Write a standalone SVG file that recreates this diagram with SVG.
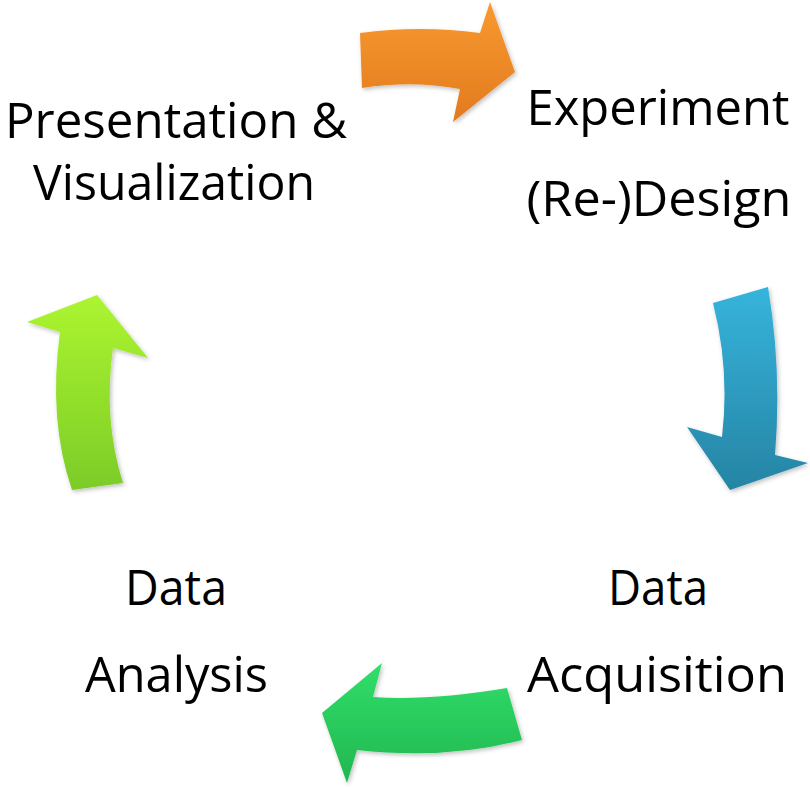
<svg xmlns="http://www.w3.org/2000/svg" width="810" height="787" viewBox="0 0 810 787">
  <defs>
    <style>
      .lbl { font-family: "Open Sans", "Liberation Sans", sans-serif; font-size: 49px; fill: #000; text-anchor: middle; }
    </style>
    <linearGradient id="gOrange" x1="0" y1="0" x2="0" y2="1">
      <stop offset="0" stop-color="#F89A30"/>
      <stop offset="1" stop-color="#E27A1E"/>
    </linearGradient>
    <linearGradient id="gBlue" x1="0" y1="0" x2="0" y2="1">
      <stop offset="0" stop-color="#36B4DC"/>
      <stop offset="1" stop-color="#2684A4"/>
    </linearGradient>
    <linearGradient id="gGreen" x1="0" y1="0" x2="0" y2="1">
      <stop offset="0" stop-color="#31DE6A"/>
      <stop offset="1" stop-color="#22B750"/>
    </linearGradient>
    <linearGradient id="gLime" x1="0" y1="0" x2="0" y2="1">
      <stop offset="0" stop-color="#ACF530"/>
      <stop offset="1" stop-color="#7CCC28"/>
    </linearGradient>
    <filter id="sh" x="-20%" y="-20%" width="140%" height="140%">
      <feDropShadow dx="1.5" dy="2" stdDeviation="2" flood-color="#000" flood-opacity="0.25"/>
    </filter>
  </defs>
  <rect width="810" height="787" fill="#fff"/>

  <g id="connectors">
    <path id="arrow-design" fill="url(#gOrange)" filter="url(#sh)"
          d="M360,33 Q420,25 480,33 L490,2 L515,72 L453,122 L460,89 Q412,80 362,88 Z"/>
    <path id="arrow-acquire" fill="url(#gBlue)" filter="url(#sh)"
          d="M713,303 Q730,370 722,437 L687,427 L730,490 L808,463 L775,455 Q782,370 768,287 Z"/>
    <path id="arrow-analyze" fill="url(#gGreen)" filter="url(#sh)"
          d="M507,688 Q430,701 373,697 L382,663 L322,713 L347,783 L357,750 Q445,760 522,740 Z"/>
    <path id="arrow-present" fill="url(#gLime)" filter="url(#sh)"
          d="M97,295 L27,322 L60,332 Q48,420 72,490 L123,483 Q103,420 113,348 L148,358 Z"/>
  </g>

  <g id="node-presentation">
    <text class="lbl" x="176" y="138" textLength="342" lengthAdjust="spacingAndGlyphs">Presentation &amp;</text>
    <text class="lbl" x="174" y="200" textLength="282" lengthAdjust="spacingAndGlyphs">Visualization</text>
  </g>
  <g id="node-design">
    <text class="lbl" x="658" y="125" textLength="263" lengthAdjust="spacingAndGlyphs">Experiment</text>
    <text class="lbl" x="659" y="216" textLength="265" lengthAdjust="spacingAndGlyphs">(Re-)Design</text>
  </g>
  <g id="node-acquisition">
    <text class="lbl" x="658" y="605" textLength="100" lengthAdjust="spacingAndGlyphs">Data</text>
    <text class="lbl" x="657" y="692" textLength="260" lengthAdjust="spacingAndGlyphs">Acquisition</text>
  </g>
  <g id="node-analysis">
    <text class="lbl" x="176" y="605" textLength="102" lengthAdjust="spacingAndGlyphs">Data</text>
    <text class="lbl" x="176.5" y="692" textLength="183" lengthAdjust="spacingAndGlyphs">Analysis</text>
  </g>
</svg>
